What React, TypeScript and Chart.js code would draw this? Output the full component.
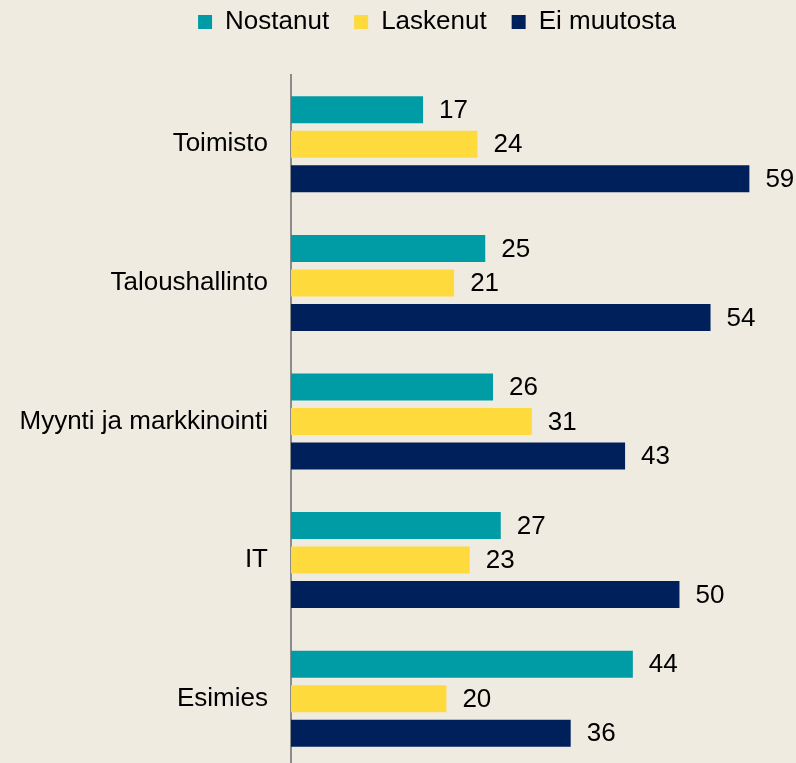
import React, { useEffect, useRef } from "react";
import { Chart, registerables } from "chart.js";

Chart.register(...registerables);

const categories = ["Toimisto", "Taloushallinto", "Myynti ja markkinointi", "IT", "Esimies"];
const nostanut = [17, 25, 26, 27, 44];
const laskenut = [24, 21, 31, 23, 20];
const eiMuutosta = [59, 54, 43, 50, 36];
const seriesNames = ["Nostanut", "Laskenut", "Ei muutosta"];
const seriesColors = ["#009CA6", "#FFDA3C", "#00205B"];

const FONT = "'Liberation Sans', Arial, sans-serif";
const BG = "#EFEBE1";

const valueLabels = {
  id: "valueLabels",
  afterDatasetsDraw(chart: any) {
    const ctx = chart.ctx;
    ctx.save();
    ctx.font = `26px ${FONT}`;
    ctx.fillStyle = "#000";
    ctx.textAlign = "left";
    ctx.textBaseline = "middle";
    chart.data.datasets.forEach((ds: any, di: number) => {
      const meta = chart.getDatasetMeta(di);
      meta.data.forEach((el: any, i: number) => {
        ctx.fillText(String(ds.data[i]), el.x + 16, el.y + 1);
      });
    });
    ctx.restore();
  },
};

const legendShift = {
  id: "legendShift",
  afterLayout(chart: any) {
    if (chart.legend) {
      chart.legend.left = 78;
    }
  },
};

export default function App() {
  const ref = useRef<HTMLCanvasElement>(null);
  useEffect(() => {
    document.body.style.margin = "0";
    document.body.style.overflow = "hidden";
    document.body.style.background = BG;
    document.documentElement.style.background = BG;
    const chart = new Chart(ref.current!, {
      type: "bar",
      data: {
        labels: categories,
        datasets: [nostanut, laskenut, eiMuutosta].map((d, i) => ({
          label: seriesNames[i],
          data: d,
          backgroundColor: seriesColors[i],
          borderWidth: 0,
          categoryPercentage: 0.747,
          barPercentage: 0.783,
        })),
      },
      options: {
        indexAxis: "y",
        responsive: false,
        animation: false,
        layout: { padding: { top: -16, left: 0, right: 0, bottom: 0 } },
        plugins: {
          legend: {
            position: "top",
            labels: {
              boxWidth: 14,
              boxHeight: 14,
              padding: 25,
              color: "#000",
              font: { size: 26, family: FONT },
            },
          },
          tooltip: { enabled: false },
        },
        scales: {
          x: {
            position: "top",
            min: 0,
            max: 65,
            display: true,
            grid: { display: false },
            border: { display: false },
            ticks: { display: false },
            afterFit: (s: any) => {
              s.height = 30;
              s.paddingLeft = 0;
              s.paddingRight = 0;
            },
          },
          y: {
            grid: { display: false, drawTicks: false },
            border: { display: true, color: "#8C8C8C", width: 2 },
            ticks: {
              color: "#000",
              padding: 23,
              font: { size: 26, family: FONT },
            },
            afterFit: (s: any) => {
              s.width = 291;
              s.paddingTop = 0;
              s.paddingBottom = 0;
            },
          },
        },
      },
      plugins: [valueLabels, legendShift],
    });
    return () => chart.destroy();
  }, []);
  return (
    <div style={{ width: 796, height: 763, overflow: "hidden", background: BG }}>
      <canvas ref={ref} width={796} height={768} style={{ display: "block" }} />
    </div>
  );
}
